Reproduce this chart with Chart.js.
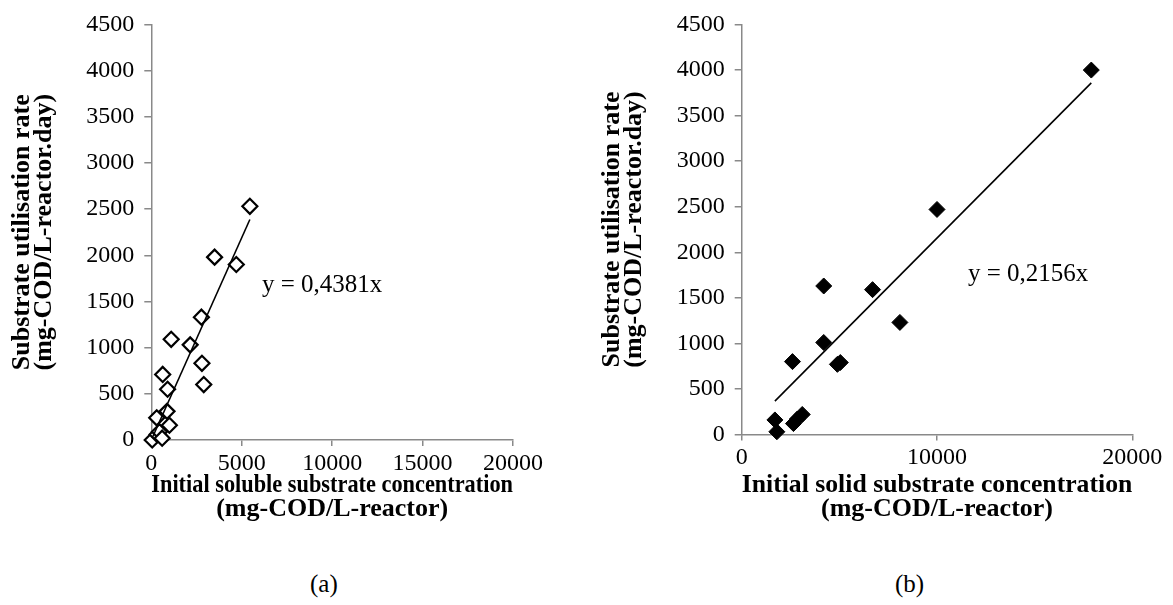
<!DOCTYPE html>
<html>
<head>
<meta charset="utf-8">
<script src="https://cdn.jsdelivr.net/npm/chart.js@4"></script>
<style>
  html, body { margin: 0; padding: 0; background: #fff; }
  body { width: 1173px; height: 605px; position: relative; overflow: hidden; font-family: 'Liberation Serif', 'Times New Roman', serif; }
  .wrap { position: absolute; top: 0; height: 560px; }
  .lbl { position: absolute; font-size: 25px; color: #000; white-space: nowrap; line-height: 1; }
</style>
</head>
<body>
<div class="wrap" style="left:0;width:580px;"><canvas id="ca"></canvas></div>
<div class="wrap" style="left:590px;width:583px;"><canvas id="cb"></canvas></div>
<div class="lbl" style="left:262px;top:271px;">y = 0,4381x</div>
<div class="lbl" style="left:968px;top:260px;">y = 0,2156x</div>
<div class="lbl" style="left:310px;top:571px;">(a)</div>
<div class="lbl" style="left:895px;top:571px;">(b)</div>
<script>
// ----- Data (a): soluble substrate -----
const solubleX = [50, 320, 300, 450, 600, 630, 870, 900, 1000, 1100, 2150, 2770, 2800, 2900, 3500, 4700, 5450];
const solubleY = [0, 60, 240, 90, 20, 710, 310, 550, 160, 1090, 1030, 1330, 830, 600, 1980, 1900, 2530];
const solubleTrendX = [50, 5450];
const solubleTrendY = [22, 2388];

// ----- Data (b): solid substrate -----
const solidX = [1700, 1800, 2600, 2650, 2850, 3100, 4200, 4200, 4900, 5050, 6700, 8100, 10000, 17900];
const solidY = [160, 30, 800, 120, 170, 220, 1630, 1010, 770, 790, 1590, 1230, 2470, 4000];
const solidTrendX = [1700, 17900];
const solidTrendY = [366, 3859];

const yTicks = [0, 500, 1000, 1500, 2000, 2500, 3000, 3500, 4000, 4500];
const xTicksA = [0, 5000, 10000, 15000, 20000];
const xTicksB = [0, 10000, 20000];

const yTitle = ['Substrate utilisation rate', '(mg-COD/L-reactor.day)'];
const xTitleA = ['Initial soluble substrate concentration', '(mg-COD/L-reactor)'];
const xTitleB = ['Initial solid substrate concentration', '(mg-COD/L-reactor)'];

const FONT = "'Liberation Serif', 'Times New Roman', serif";
const AXIS = '#898989';

function pts(xs, ys) { return xs.map((x, i) => ({ x: x, y: ys[i] })); }

function makeChart(id, cfg) {
  return new Chart(document.getElementById(id), {
    type: 'scatter',
    data: {
      datasets: [
        {
          data: pts(cfg.tx, cfg.ty),
          showLine: true,
          borderColor: '#000',
          borderWidth: 1.6,
          pointRadius: 0,
          fill: false,
          clip: false
        },
        {
          data: pts(cfg.x, cfg.y),
          pointStyle: 'rectRot',
          pointRadius: cfg.filled ? 8 : 7.5,
          pointBorderWidth: cfg.filled ? 1 : 2.2,
          pointBorderColor: '#000',
          pointBackgroundColor: cfg.filled ? '#000' : '#fff',
          showLine: false,
          clip: false
        }
      ]
    },
    options: {
      responsive: true,
      maintainAspectRatio: false,
      animation: false,
      events: [],
      layout: { padding: cfg.padding },
      plugins: { legend: { display: false }, tooltip: { enabled: false } },
      scales: {
        x: {
          type: 'linear',
          min: 0, max: 20000,
          afterBuildTicks: (s) => { s.ticks = cfg.xticks.map(v => ({ value: v })); },
          afterFit: (s) => { s.height = cfg.xh; },
          ticks: { color: '#000', font: { family: FONT, size: 24 }, padding: 3, maxRotation: 0, autoSkip: false, callback: (v) => String(v) },
          grid: { display: true, drawOnChartArea: false, drawTicks: true, tickLength: 6, color: AXIS, lineWidth: 1.5 },
          border: { display: true, color: AXIS, width: 1.5 },
          title: { display: true, text: cfg.xtitle, color: '#000', font: { family: FONT, size: 26, weight: 'bold', lineHeight: 0.92 }, padding: { top: 0, bottom: 39 } }
        },
        y: {
          type: 'linear',
          min: 0, max: 4500,
          afterBuildTicks: (s) => { s.ticks = yTicks.map(v => ({ value: v })); },
          afterFit: (s) => { s.width = cfg.yw; },
          ticks: { color: '#000', font: { family: FONT, size: 24 }, padding: 10, autoSkip: false, callback: (v) => String(v) },
          grid: { display: true, drawOnChartArea: false, drawTicks: true, tickLength: 7, color: AXIS, lineWidth: 1.5 },
          border: { display: true, color: AXIS, width: 1.5 },
          title: { display: true, text: yTitle, color: '#000', font: { family: FONT, size: 26, weight: 'bold', lineHeight: 0.85 }, padding: { top: 11, bottom: 0 } }
        }
      }
    }
  });
}

makeChart('ca', {
  x: solubleX, y: solubleY, tx: solubleTrendX, ty: solubleTrendY,
  xticks: xTicksA, xtitle: xTitleA, filled: false,
  padding: { left: 0, right: 67, top: 24, bottom: 0 },
  yw: 151.3, xh: 120
});
makeChart('cb', {
  x: solidX, y: solidY, tx: solidTrendX, ty: solidTrendY,
  xticks: xTicksB, xtitle: xTitleB, filled: true,
  padding: { left: 0, right: 40.7, top: 24.5, bottom: 0 },
  yw: 151.7, xh: 125.5
});
</script>
</body>
</html>
